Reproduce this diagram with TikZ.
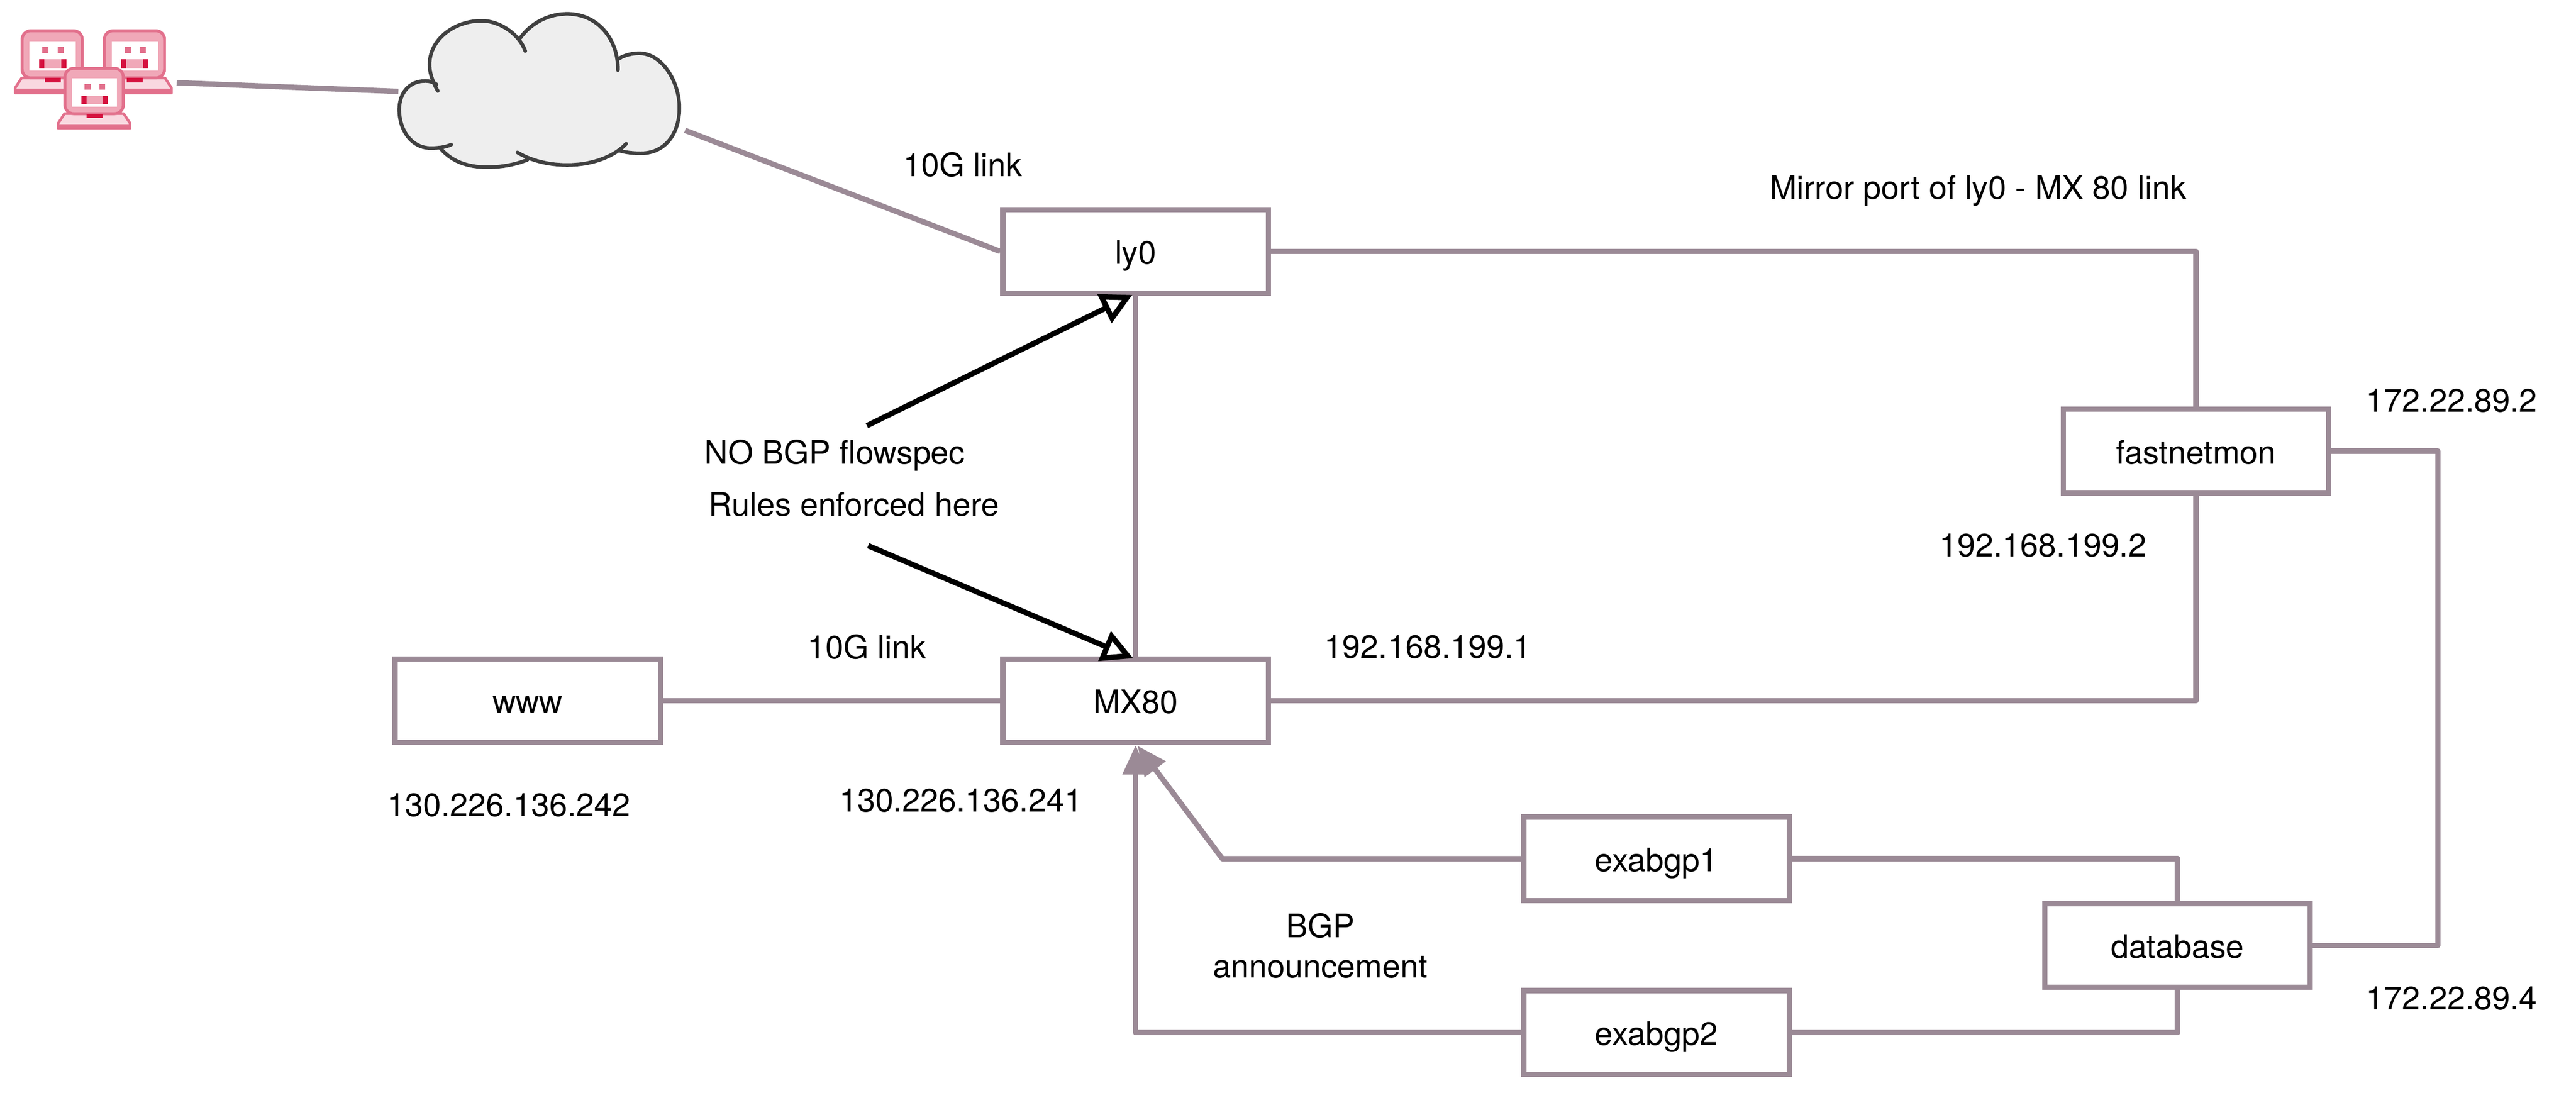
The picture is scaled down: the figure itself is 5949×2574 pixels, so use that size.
\documentclass[tikz,border=0pt]{standalone}
\usepackage{fontspec}
\setmainfont{TeX Gyre Heros}
\usetikzlibrary{arrows.meta}
\definecolor{linkgrey}{HTML}{9B8A96}
\definecolor{cloudline}{HTML}{404040}
\definecolor{cloudfill}{HTML}{EEEEEE}
\definecolor{lapline}{HTML}{E2708C}
\definecolor{lapmid}{HTML}{F0A8B8}
\definecolor{laplight}{HTML}{F9D8E0}
\definecolor{lapdark}{HTML}{D5123F}
\tikzset{
  hostbox/.style={draw=linkgrey,line width=3.1pt,fill=white,rectangle,minimum width=153.25pt,minimum height=48.25pt,inner sep=0pt,text height=16pt,text depth=1.25pt,font=\fontsize{18.7}{22}\selectfont},
  caption/.style={anchor=base,inner sep=0pt,font=\fontsize{18.7}{22}\selectfont},
  link/.style={draw=linkgrey,line width=3.1pt,line join=round},
  announce/.style={link,-{Triangle[length=17pt,width=14.5pt,fill=linkgrey]}},
  callout/.style={draw=black,line width=3.1pt,-{Triangle[open,length=18pt,width=18pt,line width=3.1pt,fill=white]}},
  cloudedge/.style={draw=cloudline,line width=2.1pt,line cap=round},
}
\newcommand{\laptopicon}[4]{%
  \begin{scope}[shift={(#1,#2)},xscale=#3,yscale=#4]
    \draw[lapline,line width=1.5pt,fill=laplight,line join=round] (2,112)--(143,112)--(158,135)--(158,147)--(-13,147)--(-13,135)--cycle;
    \fill[lapline] (-13,137) rectangle (158,149);
    \draw[lapline,line width=1.7pt,fill=lapmid,rounded corners=5pt] (3,3) rectangle (142,112);
    \fill[white] (20,27) rectangle (127,95);
    \fill[lapline] (50,40) rectangle (64,54);
    \fill[lapline] (85,40) rectangle (99,54);
    \fill[lapmid] (42,69) rectangle (105,89);
    \fill[lapdark] (42,69) rectangle (54,89);
    \fill[lapdark] (93,69) rectangle (105,89);
    \fill[lapdark] (55,112) rectangle (92,122);
  \end{scope}}
\begin{document}
\begin{tikzpicture}[x=0.25pt,y=-0.25pt]
\useasboundingbox (0,0) rectangle (5949,2574);
\fill[white] (0,0) rectangle (5949,2574);
% laptops
\laptopicon{48}{68}{1}{1}
\laptopicon{238}{68}{1}{1}
\laptopicon{147}{155}{0.97}{0.96}
% cloud
\fill[cloudfill] (922,253) .. controls (922,215) and (945,187) .. (982,187) -- (1000,190) -- (992,149) .. controls (992,90) and (1050,48) .. (1112,48) .. controls (1150,48) and (1185,65) .. (1202,87) .. controls (1225,55) and (1265,32) .. (1310,32) .. controls (1380,32) and (1428,90) .. (1427,137) .. controls (1440,128) and (1458,123) .. (1476,123) .. controls (1530,123) and (1569,190) .. (1569,249) .. controls (1569,310) and (1535,354) .. (1480,354) .. controls (1462,354) and (1445,352) .. (1431,348) .. controls (1400,368) and (1370,381) .. (1310,381) .. controls (1280,381) and (1245,375) .. (1218,369) .. controls (1190,380) and (1160,386) .. (1125,386) .. controls (1075,386) and (1040,370) .. (1017,342) -- (995,342) .. controls (950,342) and (922,300) .. (922,253) -- cycle;
\draw[cloudedge] (1011,210) .. controls (1000,190) and (992,170) .. (992,149) .. controls (992,90) and (1050,48) .. (1112,48) .. controls (1155,48) and (1200,80) .. (1213,118);
\draw[cloudedge] (1202,87) .. controls (1225,55) and (1265,32) .. (1310,32) .. controls (1380,32) and (1428,90) .. (1427,162);
\draw[cloudedge] (1427,137) .. controls (1440,128) and (1458,123) .. (1476,123) .. controls (1530,123) and (1569,190) .. (1569,249) .. controls (1569,310) and (1535,354) .. (1480,354) .. controls (1462,354) and (1445,352) .. (1431,348);
\draw[cloudedge] (1446,332) .. controls (1420,360) and (1370,381) .. (1310,381) .. controls (1265,381) and (1225,370) .. (1195,352);
\draw[cloudedge] (1218,369) .. controls (1190,380) and (1160,386) .. (1125,386) .. controls (1075,386) and (1040,370) .. (1017,342);
\draw[cloudedge] (1042,334) .. controls (1028,340) and (1012,342) .. (995,342) .. controls (950,342) and (922,300) .. (922,253) .. controls (922,215) and (945,187) .. (982,187) .. controls (992,187) and (1002,190) .. (1008,195);
% free ends
\coordinate (lapEnd) at (408,191);
\coordinate (cloudW) at (920,211);
\coordinate (cloudE) at (1582,301);
\coordinate (rail) at (5630,1041);
\coordinate (bendA) at (2823,1983);
\coordinate (tipA) at (2627,1722);
\coordinate (noteA) at (2002,983);
\coordinate (noteB) at (2005,1260);
\coordinate (flowA) at (2615,681);
\coordinate (flowB) at (2617,1520);
% boxes
\node[hostbox] (ly0) at (2622.5,580.5) {ly0};
\node[hostbox] (mx) at (2622.5,1618) {MX80};
\node[hostbox] (www) at (1218.5,1618) {www};
\node[hostbox] (fast) at (5071.5,1041.5) {fastnetmon};
\node[hostbox] (exa1) at (3825.5,1983) {exabgp1};
\node[hostbox] (exa2) at (3825.5,2384) {exabgp2};
\node[hostbox] (db) at (5028.5,2183) {database};
% links
\draw[link] (lapEnd) -- (cloudW);
\draw[link] (cloudE) -- (ly0.west);
\draw[link] (ly0.south) -- (mx.north);
\draw[link] (www.east) -- (mx.west);
\draw[link] (ly0.east) -| (fast.north);
\draw[link] (mx.east) -| (fast.south);
\draw[link] (fast.east) -- (fast.east -| rail) -- (db.east -| rail) -- (db.east);
\draw[link] (exa1.east) -| (db.north);
\draw[link] (exa2.east) -| (db.south);
\draw[announce] (exa1.west) -- (bendA) -- (tipA);
\draw[announce] (exa2.west) -| (mx.south);
\draw[callout] (noteA) -- (flowA);
\draw[callout] (noteB) -- (flowB);
% labels
\node[caption] (t1) at (2223,408) {10G link};
\node[caption] (t2) at (4568,460) {Mirror port of ly0 - MX 80 link};
\node[caption] (t3) at (5662,951) {172.22.89.2};
\node[caption] (t4) at (1928,1071) {NO BGP flowspec};
\node[caption] (t5) at (1972,1191) {Rules enforced here};
\node[caption] (t6) at (4718,1285) {192.168.199.2};
\node[caption] (t7) at (2002,1521) {10G link};
\node[caption] (t8) at (3298,1520) {192.168.199.1};
\node[caption] (t9) at (1175,1885) {130.226.136.242};
\node[caption] (t10) at (2219,1875) {130.226.136.241};
\node[caption] (t11) at (3049,2165) {BGP};
\node[caption] (t12) at (3049,2258) {announcement};
\node[caption] (t13) at (5662,2331) {172.22.89.4};
\end{tikzpicture}
\end{document}
